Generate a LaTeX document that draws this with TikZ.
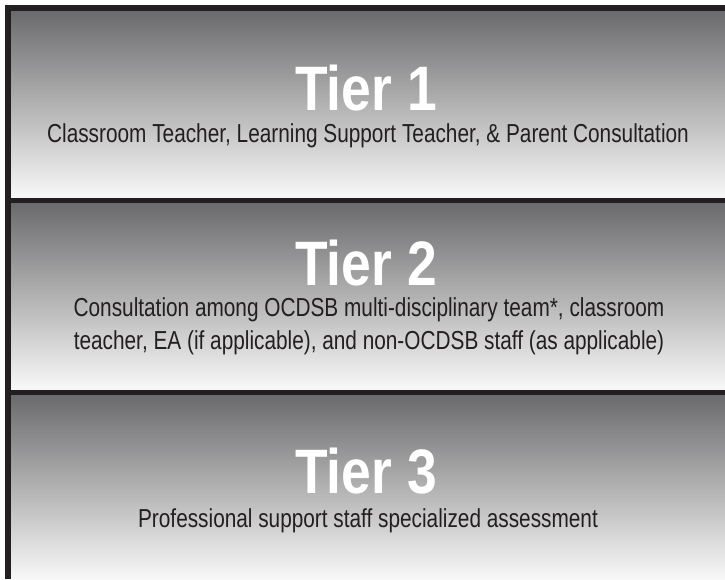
\documentclass[tikz,border=0pt]{standalone}
\usepackage{fontspec}
\setmainfont{Liberation Sans}
\newfontfamily\tierfont{Liberation Sans}[FakeStretch=0.85]
\newfontfamily\descfont{Liberation Sans}[FakeStretch=0.8]
\definecolor{framegray}{HTML}{231F20}
\definecolor{shadetop}{HTML}{6B6B6D}
\definecolor{shadebot}{HTML}{F8F8F8}
\definecolor{descgray}{HTML}{231F20}

\begin{document}
\begin{tikzpicture}[
    x=1pt, y=-1pt,
    tierband/.style={top color=shadetop, bottom color=shadebot, draw=none},
    tiertitle/.style={anchor=base, text=white, inner sep=0pt, font=\tierfont\bfseries\fontsize{62.8}{64}\selectfont},
    tierdesc/.style={anchor=base, text=descgray, inner sep=0pt, align=center, font=\descfont\fontsize{26}{33}\selectfont}
]
\useasboundingbox (0,0) rectangle (725,579);
% dark frame behind the three bands
\fill[framegray] (5,5) rectangle (725,579);
\foreach \ytop/\ybot in {11/197, 203/389, 395/579}
    \shade[tierband] (11,\ytop) rectangle (725,\ybot);

% tier 1
\node[tiertitle] (tier1) at (366,110) {Tier 1};
\node[tierdesc] (tier1desc) at (368,142) {Classroom Teacher, Learning Support Teacher, \& Parent Consultation};

% tier 2 (base anchor sits on the last line)
\node[tiertitle] (tier2) at (366,285) {Tier 2};
\node[tierdesc] (tier2desc) at (369,349) {Consultation among OCDSB multi-disciplinary team*, classroom\\teacher, EA (if applicable), and non-OCDSB staff (as applicable)};

% tier 3
\node[tiertitle] (tier3) at (366,493) {Tier 3};
\node[tierdesc] (tier3desc) at (368,527) {Professional support staff specialized assessment};
\end{tikzpicture}
\end{document}
